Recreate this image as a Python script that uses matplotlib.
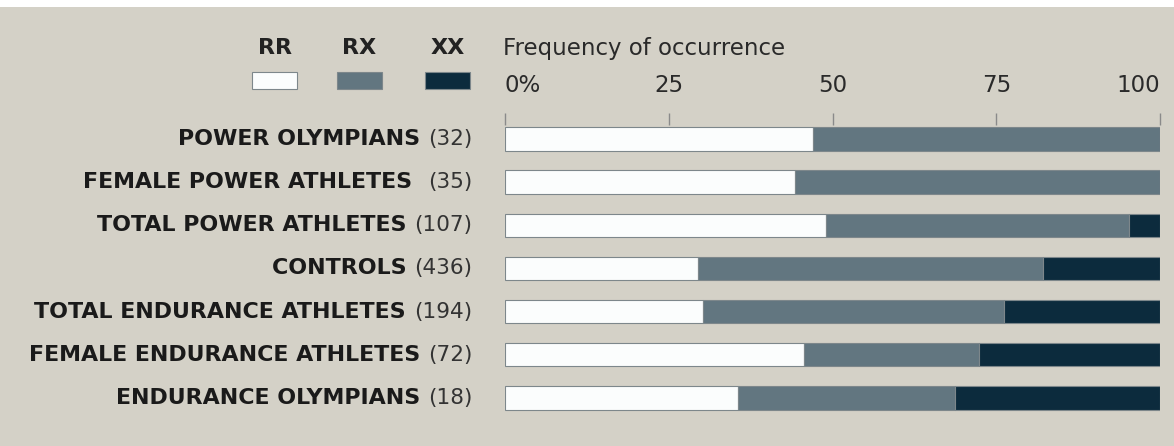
import matplotlib
matplotlib.use("Agg")
import matplotlib.pyplot as plt
from matplotlib.patches import Rectangle

# Datos (porcentajes)
groups = ["POWER OLYMPIANS", "FEMALE POWER ATHLETES ", "TOTAL POWER ATHLETES",
          "CONTROLS", "TOTAL ENDURANCE ATHLETES", "FEMALE ENDURANCE ATHLETES",
          "ENDURANCE OLYMPIANS"]
counts = [32, 35, 107, 436, 194, 72, 18]
rr = [47.0, 44.3, 49.0, 29.4, 30.2, 45.7, 35.5]
rx = [53.0, 55.7, 46.3, 52.8, 46.0, 26.6, 33.2]
xx = [0.0, 0.0, 4.7, 17.8, 23.8, 27.7, 31.3]
genotypes = ["RR", "RX", "XX"]
tick_vals = [0, 25, 50, 75, 100]
tick_labels = ["0%", "25", "50", "75", "100"]

bg = "#d4d1c7"
colors = ["#fbfdfd", "#627680", "#0c2b3d"]
edge = "#7d878b"

W, H = 1174, 446
fig = plt.figure(figsize=(W / 100, H / 100), dpi=100, facecolor=bg)

# franja blanca superior
fig.add_artist(Rectangle((0, 1 - 7 / H), 1, 7 / H, transform=fig.transFigure,
                         facecolor="white", edgecolor="none"))

# ejes de barras
ax = fig.add_axes([505 / W, 1 - 421 / H, 655 / W, 296 / H])
ax.set_facecolor(bg)
ypos = list(range(len(groups)))
h = 0.54
left = [0] * len(groups)
for vals, c in zip([rr, rx, xx], colors):
    ax.barh(ypos, vals, left=left, height=h, color=c, edgecolor=edge, linewidth=0.8)
    left = [a + b for a, b in zip(left, vals)]

ax.set_xlim(0, 100)
ax.set_ylim(6.533, -0.324)
for s in ax.spines.values():
    s.set_visible(False)
ax.set_yticks([])
ax.xaxis.tick_top()
ax.set_xticks(tick_vals)
ax.set_xticklabels(tick_labels, fontsize=16.5, color="#2a2a2a")
ax.tick_params(axis="x", direction="out", length=9, width=1, color="#8a8a8a", pad=11)
tl = ax.get_xticklabels()
tl[0].set_ha("left")
tl[-1].set_ha("right")

# etiquetas de grupos: nombre en negrita + (n) normal
tr = ax.get_yaxis_transform()
for i, (name, n) in enumerate(zip(groups, counts)):
    t = ax.text(-33 / 655, i, f"({n})", transform=tr, ha="right", va="center",
                fontsize=15.6, color="#333333")
    ax.annotate(name + " ", xy=(0, 0.5), xycoords=t, ha="right", va="center",
                fontsize=15.9, fontweight="bold", color="#1a1a1a")

# titulo del eje
fig.text(503 / W, 1 - 48 / H, "Frequency of occurrence", ha="left", va="center",
         fontsize=16.5, color="#2a2a2a")

# leyenda
leg_x = [252, 337, 425]
for g, x0, c in zip(genotypes, leg_x, colors):
    fig.text((x0 + 22.5) / W, 1 - 48 / H, g, ha="center", va="center",
             fontsize=16, fontweight="bold", color="#222222")
    fig.add_artist(Rectangle((x0 / W, 1 - 89 / H), 45 / W, 17 / H,
                             transform=fig.transFigure, facecolor=c,
                             edgecolor=edge, linewidth=0.8))

fig.savefig("out.png", dpi=100, facecolor=bg)
